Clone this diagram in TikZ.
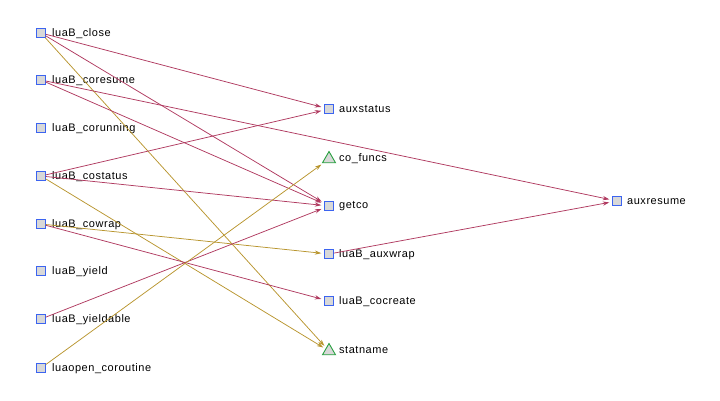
\documentclass[tikz,border=0pt]{standalone}
\usepackage{fontspec}
\setmainfont{Liberation Sans}[LetterSpace=5]
\usetikzlibrary{shapes.geometric,arrows.meta}
\definecolor{redln}{HTML}{B03A60}
\definecolor{goldln}{HTML}{B8952E}
\definecolor{boxfill}{HTML}{D8D8D8}
\definecolor{boxdraw}{HTML}{3C64F0}
\definecolor{tridraw}{HTML}{28A040}
\tikzset{
  sq/.style={draw=boxdraw, fill=boxfill, line width=0.9bp, minimum size=9.5bp, inner sep=0pt, outer sep=0pt},
  tri/.style={regular polygon, regular polygon sides=3, draw=tridraw, fill=boxfill, line width=0.9bp, minimum size=15bp, inner sep=0pt, outer sep=0pt},
  lbl/.style={anchor=west, inner sep=0pt, font=\fontsize{11}{13}\selectfont},
  rd/.style={draw=redln, line width=0.75bp, -{Stealth[length=6.5bp,width=4.2bp]}, shorten >=3bp},
  gd/.style={draw=goldln, line width=0.75bp, -{Stealth[length=6.5bp,width=4.2bp]}, shorten >=3bp},
}
\begin{document}
\begin{tikzpicture}[x=1bp,y=-1bp]
\useasboundingbox (0,0) rectangle (720,400);
\begin{scope}[yshift=-1bp]
% left column
\node[sq] (close) at (41,32) {};
\node[lbl] (closeL) at (52,32.5) {luaB\_close};
\node[sq] (coresume) at (41,79) {};
\node[lbl] (coresumeL) at (52,79.5) {luaB\_coresume};
\node[sq] (corunning) at (41,127) {};
\node[lbl] (corunningL) at (52,127.5) {luaB\_corunning};
\node[sq] (costatus) at (41,175) {};
\node[lbl] (costatusL) at (52,175.5) {luaB\_costatus};
\node[sq] (cowrap) at (41,223) {};
\node[lbl] (cowrapL) at (52,223.5) {luaB\_cowrap};
\node[sq] (yield) at (41,270) {};
\node[lbl] (yieldL) at (52,270.5) {luaB\_yield};
\node[sq] (yieldable) at (41,318) {};
\node[lbl] (yieldableL) at (52,318.5) {luaB\_yieldable};
\node[sq] (luaopen) at (41,367) {};
\node[lbl] (luaopenL) at (52,367.5) {luaopen\_coroutine};
% middle column
\node[sq] (auxstatus) at (329,108) {};
\node[lbl] (auxstatusL) at (339,108.5) {auxstatus};
\node[tri] (cofuncs) at (329,158) {};
\node[lbl] (cofuncsL) at (339,157.5) {co\_funcs};
\node[sq] (getco) at (329,205) {};
\node[lbl] (getcoL) at (339,205.5) {getco};
\node[sq] (auxwrap) at (329,253) {};
\node[lbl] (auxwrapL) at (339,253.5) {luaB\_auxwrap};
\node[sq] (cocreate) at (329,300) {};
\node[lbl] (cocreateL) at (339,300.5) {luaB\_cocreate};
\node[tri] (statname) at (329,350) {};
\node[lbl] (statnameL) at (339,349.5) {statname};
% right
\node[sq] (auxresume) at (617,200) {};
\node[lbl] (auxresumeL) at (627,200.5) {auxresume};
% edges
\draw[rd] (close) -- (auxstatus);
\draw[rd] (close) -- (getco);
\draw[gd] (close) -- (statname);
\draw[rd] (coresume) -- (auxresume);
\draw[rd] (coresume) -- (getco);
\draw[rd] (costatus) -- (auxstatus);
\draw[rd] (costatus) -- (getco);
\draw[gd] (costatus) -- (statname);
\draw[gd] (cowrap) -- (auxwrap);
\draw[rd] (cowrap) -- (cocreate);
\draw[rd] (yieldable) -- (getco);
\draw[gd] (luaopen) -- (cofuncs);
\draw[rd] (auxwrap) -- (auxresume);
\end{scope}
\end{tikzpicture}
\end{document}
